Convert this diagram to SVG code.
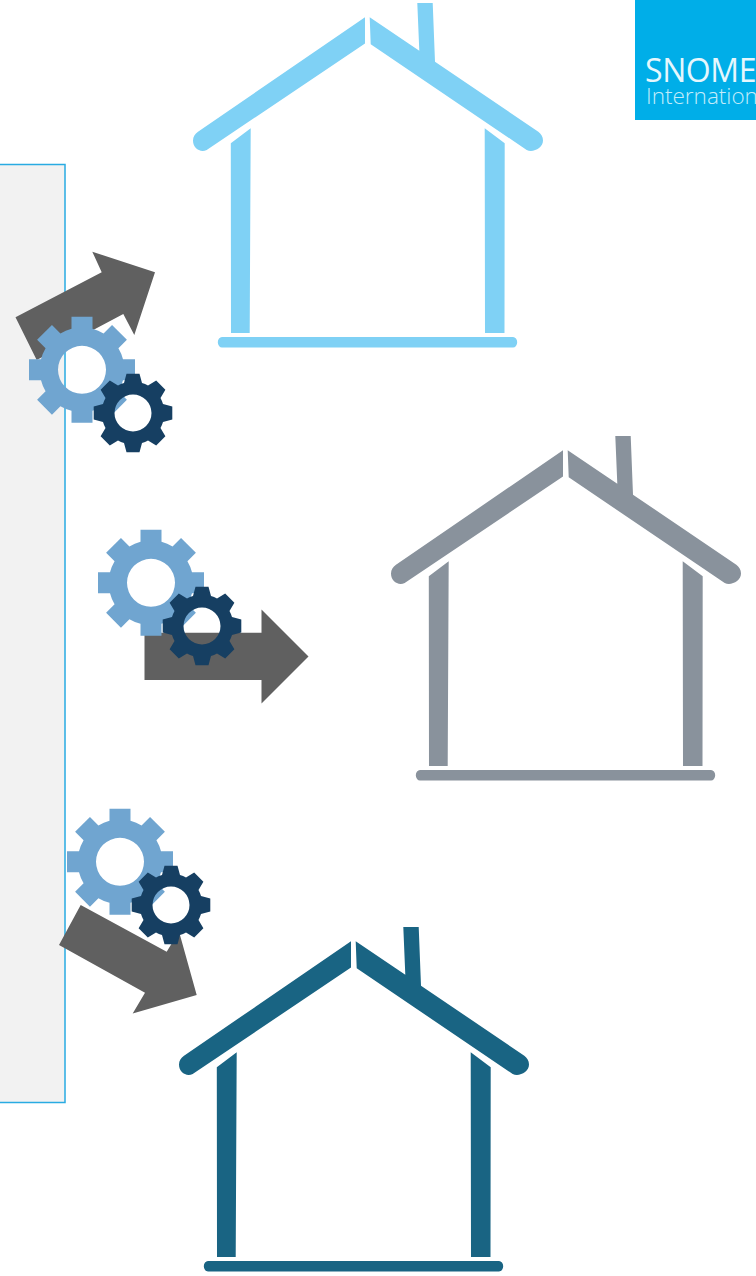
<svg xmlns="http://www.w3.org/2000/svg" xmlns:xlink="http://www.w3.org/1999/xlink" width="756" height="1276" viewBox="0 0 756 1276">
  <style>
    .arrow { fill: #606060; }
    .gear-large { fill: #70a5d0; fill-rule: evenodd; }
    .gear-small { fill: #163f62; fill-rule: evenodd; }
    .logo-a { font-family: "Open Sans", "Liberation Sans", sans-serif; font-weight: 400; fill: #e6f7fd; font-size: 32px; letter-spacing: -0.4px; }
    .logo-b { font-family: "Open Sans", "Liberation Sans", sans-serif; font-weight: 300; fill: #c4ecfa; font-size: 22.5px; }
  </style>
  <defs>
    <path id="house" d="M365 17.3V43.5L206.7 150C200 153 193 148 193 140.5C193 136.5 195 133.7 198 131.7Z M369.7 17.3L419.3 50.7L417.3 3H432.7L435 61.7L538.3 131.7C541 133.7 543 136.5 543 140.5C543 148 533 153 526.7 150L370.7 44.3Z M250.7 128.3L249.7 333H231L230.8 143.3Z M484.7 128.3L504.7 143.3L504.5 333H485Z M222 337H513A4 5 0 0 1 513 347.5H222A4 5 0 0 1 222 337Z"/>
    <path id="gearL" d="M-10.5 -41V-53H10.5V-41A42 42 0 0 1 21.57 -36.42L30.05 -44.9L44.9 -30.05L36.42 -21.57A42 42 0 0 1 41 -10.5H53V10.5H41A42 42 0 0 1 36.42 21.57L44.9 30.05L30.05 44.9L21.57 36.42A42 42 0 0 1 10.5 41V53H-10.5V41A42 42 0 0 1 -21.57 36.42L-30.05 44.9L-44.9 30.05L-36.42 21.57A42 42 0 0 1 -41 10.5H-53V-10.5H-41A42 42 0 0 1 -36.42 -21.57L-44.9 -30.05L-30.05 -44.9L-21.57 -36.42A42 42 0 0 1 -10.5 -41Z M24 0A24 24 0 1 0 -24 0A24 24 0 1 0 24 0Z"/>
    <path id="gearS" d="M-9 -30L-6.5 -39.3H6.5L9 -30A31.5 31.5 0 0 1 15 -27.5L23.19 -32.39L32.39 -23.19L27.5 -15A31.5 31.5 0 0 1 30 -9L39.3 -6.5V6.5L30 9A31.5 31.5 0 0 1 27.5 15L32.39 23.19L23.19 32.39L15 27.5A31.5 31.5 0 0 1 9 30L6.5 39.3H-6.5L-9 30A31.5 31.5 0 0 1 -15 27.5L-23.19 32.39L-32.39 23.19L-27.5 15A31.5 31.5 0 0 1 -30 9L-39.3 6.5V-6.5L-30 -9A31.5 31.5 0 0 1 -27.5 -15L-32.39 -23.19L-23.19 -32.39L-15 -27.5A31.5 31.5 0 0 1 -9 -30Z M18.5 0A18.5 18.5 0 1 0 -18.5 0A18.5 18.5 0 1 0 18.5 0Z"/>
  </defs>

  <g id="panel"><rect x="-2" y="164.5" width="67" height="938" fill="#f2f2f2" stroke="#29abe2" stroke-width="1.5"/></g>

  <g id="logo">
    <rect x="635" y="0" width="121" height="120" fill="#00aee8"/>
    <text class="logo-a" x="645" y="82">SNOME</text>
    <text class="logo-b" x="646" y="104">Internation</text>
  </g>

  <g id="house-1"><use href="#house" fill="#7fd1f5"/></g>
  <g id="house-2"><use href="#house" x="198" y="433" fill="#89929c"/></g>
  <g id="house-3"><use href="#house" x="-14" y="924" fill="#196483"/></g>

  <g id="connectors">
    <polygon class="arrow" points="15.5,317.3 101.7,272.3 92.3,251.7 155,272.3 134.3,335 123.3,314 36.7,360"/>
    <polygon class="arrow" points="144.5,632.7 261.5,632.7 261.5,609.5 308.5,656.5 261.5,703.5 261.5,680 144.5,680"/>
    <polygon class="arrow" points="80.7,905 166.7,951.7 179,931.4 196.7,995 132.7,1013.5 145,992.7 59,945"/>
  </g>

  <g id="gears-1">
    <use href="#gearL" class="gear-large" transform="translate(82 369.8)"/>
    <use href="#gearS" class="gear-small" transform="translate(133 413)"/>
  </g>
  <g id="gears-2">
    <use href="#gearL" class="gear-large" transform="translate(151 582.8)"/>
    <use href="#gearS" class="gear-small" transform="translate(202 626)"/>
  </g>
  <g id="gears-3">
    <use href="#gearL" class="gear-large" transform="translate(120 861.8)"/>
    <use href="#gearS" class="gear-small" transform="translate(171 905)"/>
  </g>
</svg>
